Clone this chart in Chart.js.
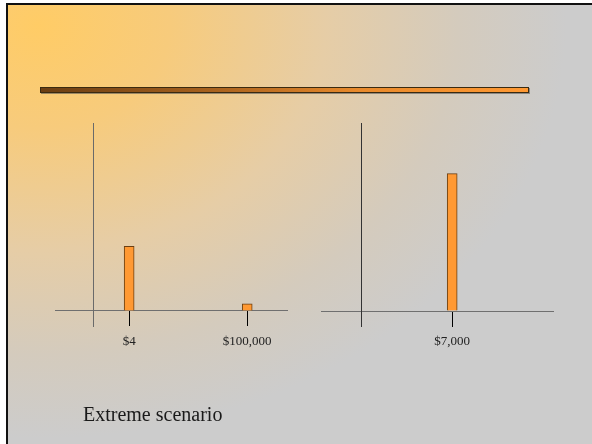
<!DOCTYPE html>
<html>
<head>
<meta charset="utf-8">
<script src="https://cdn.jsdelivr.net/npm/chart.js@4.4.1/dist/chart.umd.min.js"></script>
<style>
  html, body { margin: 0; padding: 0; width: 592px; height: 444px; overflow: hidden; background: #fff; }
  #slide {
    position: absolute; left: 6px; top: 3px; width: 600px; height: 460px;
    border-left: 2px solid #111; border-top: 2px solid #111;
    background: radial-gradient(ellipse 600px 470px at 30px 20px, #FFCC66 0%, #F7CB7C 22%, #E6CDA6 48%, #D4CBBD 70%, #CCCCCC 88%);
  }
  #rule {
    position: absolute; left: 40px; top: 87px; width: 487px; height: 4px;
    border: 1px solid #3a2a10;
    background: linear-gradient(to right, #6B3E12 0%, #A8621E 35%, #E88A2C 65%, #FF9933 100%);
    box-shadow: 1px 1px 0 rgba(90,90,90,0.6);
  }
  canvas { position: absolute; left: 0; top: 0; }
  #caption {
    position: absolute; left: 83px; top: 404px;
    font-family: "Liberation Serif", "Times New Roman", serif; font-size: 20px; color: #1a1a1a;
    line-height: 20px; white-space: nowrap;
  }
</style>
</head>
<body>
<div id="slide"></div>
<div id="rule"></div>
<canvas id="left" width="592" height="444"></canvas>
<canvas id="right" width="592" height="444"></canvas>
<div id="caption">Extreme scenario</div>
<script>
// Left panel: lottery outcomes and their (relative) bar heights
const leftCategories = ['$4', '$100,000'];
const leftValues = [0.9, 0.1];
// Right panel: sure amount
const rightCategories = ['$7,000'];
const rightValues = [1.0];

function makeChart(id, cats, vals, opts) {
  return new Chart(document.getElementById(id), {
    type: 'bar',
    data: {
      datasets: [{
        data: cats.map((c, i) => ({ x: i, y: vals[i] })),
        backgroundColor: '#FF9933',
        borderColor: '#6B3F12',
        borderWidth: 1,
        barThickness: 10
      }]
    },
    options: {
      responsive: false,
      animation: false,
      devicePixelRatio: 1,
      layout: { padding: opts.padding },
      plugins: { legend: { display: false }, tooltip: { enabled: false }, title: { display: false } },
      scales: {
        x: {
          type: 'linear',
          offset: false,
          min: opts.xMin, max: opts.xMax,
          position: { y: 0 },
          afterBuildTicks: s => { s.ticks = cats.map((c, i) => ({ value: i })); },
          ticks: {
            autoSkip: false, maxRotation: 0, padding: 8,
            color: '#222',
            font: { family: 'Liberation Serif', size: 13 },
            callback: (v) => cats[v] !== undefined ? cats[v] : ''
          },
          grid: { display: true, offset: false, drawOnChartArea: false, drawTicks: true, tickLength: 15, color: '#000', tickColor: '#000', tickWidth: 1 },
          border: { display: true, color: '#6f6f6f', width: 1 }
        },
        y: {
          type: 'linear',
          min: opts.yMin, max: opts.yMax,
          position: { x: opts.yAxisAt },
          ticks: { display: false },
          grid: { display: true, drawOnChartArea: false, drawTicks: false, color: 'rgba(0,0,0,0)' },
          border: { display: true, color: opts.yColor, width: 1 }
        }
      }
    }
  });
}

makeChart('left', leftCategories, leftValues, {
  padding: { left: 55, right: 305, top: 123, bottom: 118 },
  xMin: -0.628, xMax: 1.337, yAxisAt: -0.298,
  yMin: -0.209, yMax: 2.615, yColor: '#6a6a6a'
});
makeChart('right', rightCategories, rightValues, {
  padding: { left: 321, right: 39, top: 123, bottom: 118 },
  xMin: -1.114, xMax: 0.856, yAxisAt: -0.772,
  yMin: -0.109, yMax: 1.369, yColor: '#333'
});
</script>
</body>
</html>
